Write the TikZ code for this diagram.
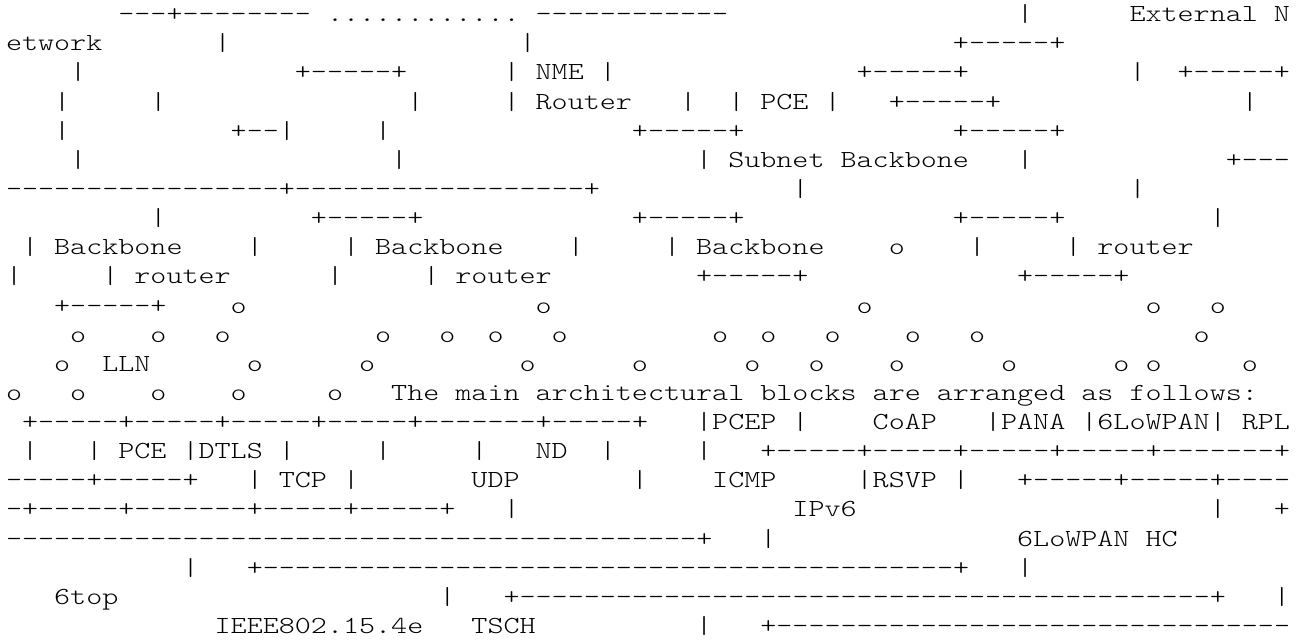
\documentclass[tikz,border=0pt]{standalone}
\usepackage{fontspec}
% light typewriter face widened to a 16.05pt character cell
\setmonofont[FakeStretch=1.248]{Latin Modern Mono Light}
\tikzset{txt/.style={anchor=base west, inner sep=0pt, outer sep=0pt,
  font=\ttfamily\fontsize{24.5}{24.5}\selectfont}}
% \tk{row}{column}{characters}: one run of characters on the text grid
\newcommand\tk[3]{\node[txt] (r#1c#2) at ({6+16.05*#2},{-21.7-29.13*(#1-1)}) {#3};}
\begin{document}
\begin{tikzpicture}[x=1pt,y=1pt]
\fill[white] (0,0) rectangle (1306,-641);
\useasboundingbox (0,0) rectangle (1306,-641);
% row 1
\tk{1}{7}{---+--------}\tk{1}{20}{............}\tk{1}{33}{------------}
\tk{1}{63}{|}\tk{1}{70}{External}\tk{1}{79}{N}
% row 2
\tk{2}{0}{etwork}\tk{2}{13}{|}\tk{2}{32}{|}\tk{2}{59}{+-----+}
% row 3
\tk{3}{4}{|}\tk{3}{18}{+-----+}\tk{3}{31}{|}\tk{3}{33}{NME}\tk{3}{37}{|}
\tk{3}{53}{+-----+}\tk{3}{70}{|}\tk{3}{73}{+-----+}
% row 4
\tk{4}{3}{|}\tk{4}{9}{|}\tk{4}{25}{|}\tk{4}{31}{|}\tk{4}{33}{Router}
\tk{4}{42}{|}\tk{4}{45}{|}\tk{4}{47}{PCE}\tk{4}{51}{|}\tk{4}{55}{+-----+}\tk{4}{77}{|}
% row 5
\tk{5}{3}{|}\tk{5}{14}{+--|}\tk{5}{23}{|}\tk{5}{39}{+-----+}\tk{5}{59}{+-----+}
% row 6
\tk{6}{4}{|}\tk{6}{24}{|}\tk{6}{43}{|}\tk{6}{45}{Subnet}\tk{6}{52}{Backbone}
\tk{6}{63}{|}\tk{6}{76}{+---}
% row 7
\tk{7}{0}{-----------------+------------------+}\tk{7}{49}{|}\tk{7}{70}{|}
% row 8
\tk{8}{9}{|}\tk{8}{19}{+-----+}\tk{8}{39}{+-----+}\tk{8}{59}{+-----+}\tk{8}{75}{|}
% row 9
\tk{9}{1}{|}\tk{9}{3}{Backbone}\tk{9}{15}{|}\tk{9}{21}{|}\tk{9}{23}{Backbone}
\tk{9}{35}{|}\tk{9}{41}{|}\tk{9}{43}{Backbone}\tk{9}{55}{o}\tk{9}{60}{|}
\tk{9}{66}{|}\tk{9}{68}{router}
% row 10
\tk{10}{0}{|}\tk{10}{6}{|}\tk{10}{8}{router}\tk{10}{20}{|}\tk{10}{26}{|}
\tk{10}{28}{router}\tk{10}{43}{+-----+}\tk{10}{63}{+-----+}
% row 11
\tk{11}{3}{+-----+}
\foreach \c in {14,33,53,71,75} {\tk{11}{\c}{o}}
% row 12
\foreach \c in {4,9,13,23,27,30,34,44,47,51,56,60,74} {\tk{12}{\c}{o}}
% row 13
\tk{13}{6}{LLN}
\foreach \c in {3,15,22,32,39,46,50,55,62,69,71,77} {\tk{13}{\c}{o}}
% row 14
\foreach \c in {0,4,9,14,20} {\tk{14}{\c}{o}}
\tk{14}{24}{The}\tk{14}{28}{main}\tk{14}{33}{architectural}\tk{14}{47}{blocks}
\tk{14}{54}{are}\tk{14}{58}{arranged}\tk{14}{67}{as}\tk{14}{70}{follows:}
% row 15
\tk{15}{1}{+-----+-----+-----+-----+-------+-----+}
\tk{15}{43}{|PCEP}\tk{15}{49}{|}\tk{15}{54}{CoAP}\tk{15}{61}{|PANA}
\tk{15}{67}{|6LoWPAN|}\tk{15}{77}{RPL}
% row 16
\tk{16}{1}{|}\tk{16}{5}{|}\tk{16}{7}{PCE}\tk{16}{11}{|DTLS}\tk{16}{17}{|}
\tk{16}{23}{|}\tk{16}{29}{|}\tk{16}{33}{ND}\tk{16}{37}{|}\tk{16}{43}{|}
\tk{16}{47}{+-----+-----+-----+-----+-------+}
% row 17
\tk{17}{0}{-----+-----+}\tk{17}{15}{|}\tk{17}{17}{TCP}\tk{17}{21}{|}
\tk{17}{29}{UDP}\tk{17}{39}{|}\tk{17}{44}{ICMP}\tk{17}{53}{|RSVP}\tk{17}{59}{|}
\tk{17}{63}{+-----+-----+----}
% row 18
\tk{18}{0}{-+-----+-------+-----+-----+}\tk{18}{31}{|}\tk{18}{49}{IPv6}
\tk{18}{75}{|}\tk{18}{79}{+}
% row 19
\tk{19}{0}{-------------------------------------------+}\tk{19}{47}{|}
\tk{19}{63}{6LoWPAN}\tk{19}{71}{HC}
% row 20
\tk{20}{11}{|}\tk{20}{15}{+-------------------------------------------+}\tk{20}{63}{|}
% row 21
\tk{21}{3}{6top}\tk{21}{27}{|}\tk{21}{31}{+-------------------------------------------+}
\tk{21}{79}{|}
% row 22
\tk{22}{13}{IEEE802.15.4e}\tk{22}{29}{TSCH}\tk{22}{43}{|}
\tk{22}{47}{+--------------------------------}
\end{tikzpicture}
\end{document}
